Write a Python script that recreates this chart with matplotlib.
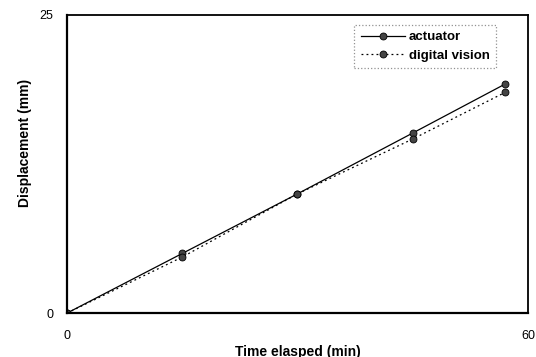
import matplotlib
matplotlib.use('Agg')
import matplotlib.pyplot as plt

plt.rcParams['font.family'] = ['Liberation Sans', 'DejaVu Sans']

time_min = [0, 15, 30, 45, 57]
actuator = [0, 5.0, 10.0, 15.1, 19.2]
digital_vision = [0, 4.7, 10.0, 14.6, 18.5]

x_ticks = [0, 60]
y_ticks = [0, 25]

fig = plt.figure(figsize=(5.36, 3.57), dpi=100)
ax = fig.add_axes([0.125, 0.123, 0.86, 0.835])

ax.plot(time_min, actuator, color='black', linestyle='-', linewidth=0.9,
        marker='o', markersize=5, markerfacecolor='#444444',
        markeredgecolor='black', markeredgewidth=0.6, label='actuator')
ax.plot(time_min, digital_vision, color='black', linestyle=(0, (1.5, 2.5)), linewidth=0.9,
        marker='o', markersize=5, markerfacecolor='#444444',
        markeredgecolor='black', markeredgewidth=0.6, label='digital vision')

ax.set_xlim(0, 60)
ax.set_ylim(0, 25)
ax.set_xticks(x_ticks)
ax.set_yticks(y_ticks)
ax.tick_params(length=0, labelsize=9)
ax.tick_params(axis='x', pad=12)
ax.tick_params(axis='y', pad=10)

for side in ['left', 'bottom']:
    ax.spines[side].set_linewidth(1.6)
for side in ['top', 'right']:
    ax.spines[side].set_linewidth(1.3)

ax.set_xlabel('Time elasped (min)', fontsize=10, fontweight='bold', labelpad=2)
ax.set_ylabel('Displacement (mm)', fontsize=10, fontweight='bold', labelpad=4)
ax.yaxis.set_label_coords(-0.075, 0.57)

leg = ax.legend(loc='upper right', bbox_to_anchor=(0.945, 0.99), fontsize=9.5,
                frameon=True, fancybox=False, handlelength=3.3,
                borderpad=0.5, labelspacing=0.45, handletextpad=0.3)
leg.get_frame().set_edgecolor('#777777')
leg.get_frame().set_linestyle(':')
leg.get_frame().set_linewidth(0.9)
for t in leg.get_texts():
    t.set_fontweight('bold')

fig.savefig('out.png', dpi=100)
